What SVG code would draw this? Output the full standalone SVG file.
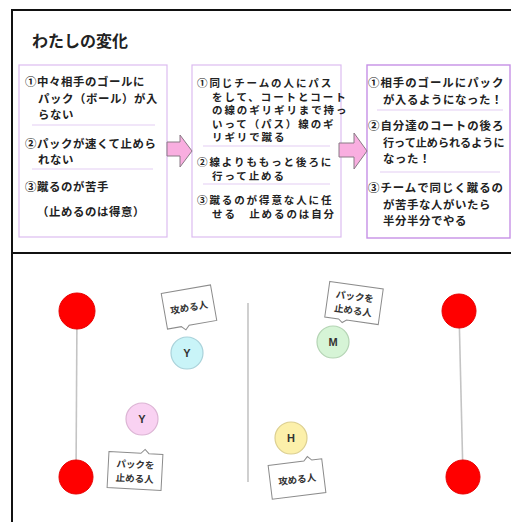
<svg xmlns="http://www.w3.org/2000/svg" width="511" height="522" viewBox="0 0 511 522">
<style>
.t{font-family:"Noto Sans CJK JP","Noto Sans",sans-serif;font-weight:bold;fill:#222}
.bx{fill:#fff;stroke:#dcbcf0;stroke-width:1.2}
.bx3{fill:#fff;stroke:#c690e6;stroke-width:1.4}
.sep{stroke:#e4cdf4;stroke-width:1.2}
.arr{fill:#f9aee0;stroke:#8a7a86;stroke-width:1}
.gl{stroke:#c4c4c4;stroke-width:1.6;fill:none}
.red{fill:#ff0000;stroke:#e80000;stroke-width:1}
.co{fill:#fff;stroke:#8c8c8c;stroke-width:1}
.ct{font-family:"Noto Sans CJK JP","Noto Sans",sans-serif;font-weight:bold;fill:#333;font-size:9.5px}
.pl{font-family:"Liberation Sans","Noto Sans",sans-serif;font-weight:bold;fill:#333;font-size:11px}
</style>
<rect width="511" height="522" fill="#fff"/>
<g id="frame" fill="none" stroke="#111" stroke-width="2">
<path d="M12 522 V10 H512"/>
<path d="M12 253 H512"/>
</g>
<g id="title"><text class="t" x="32" y="47" font-size="16">わたしの変化</text></g>

<g id="box1">
<rect class="bx" x="19" y="65" width="148" height="172"/>
<line class="sep" x1="32" y1="125" x2="155" y2="125"/>
<line class="sep" x1="32" y1="169" x2="153" y2="169"/>
<g class="t" font-size="11.4" letter-spacing="0.6">
<text x="25" y="86">①中々相手のゴールに</text>
<text x="38" y="103">パック（ボール）が入</text>
<text x="38" y="119">らない</text>
<text x="25" y="147.5">②パックが速くて止めら</text>
<text x="38" y="163.5">れない</text>
<text x="25" y="191">③蹴るのが苦手</text>
<text x="37" y="216">（止めるのは得意）</text>
</g>
</g>

<g id="box2">
<rect class="bx" x="192" y="65" width="149" height="172"/>
<line class="sep" x1="203" y1="146" x2="330" y2="146"/>
<line class="sep" x1="203" y1="184" x2="330" y2="184"/>
<g class="t" font-size="10.5" letter-spacing="1.9">
<text x="197" y="87">①同じチームの人にパス</text>
<text x="212" y="100.5">をして、コートとコート</text>
<text x="212" y="114">の線のギリギリまで持っ</text>
<text x="212" y="127.5">いって（パス）線のギ</text>
<text x="212" y="141">リギリで蹴る</text>
<text x="197" y="166">②線よりももっと後ろに</text>
<text x="212" y="180">行って止める</text>
<text x="197" y="204">③蹴るのが得意な人に任</text>
<text x="212" y="218">せる　止めるのは自分</text>
</g>
</g>

<g id="box3">
<rect class="bx3" x="367" y="65" width="143" height="173"/>
<line class="sep" x1="377" y1="110" x2="503" y2="110"/>
<line class="sep" x1="380" y1="172" x2="500" y2="172"/>
<g class="t" font-size="11.4">
<text x="368" y="87" letter-spacing="1">①相手のゴールにパック</text>
<text x="383" y="104" letter-spacing="0.6">が入るようになった！</text>
<text x="368" y="130" letter-spacing="1">②自分達のコートの後ろ</text>
<text x="383" y="147" font-size="11.1">行って止められるように</text>
<text x="383" y="163" letter-spacing="0.6">なった！</text>
<text x="368" y="192" letter-spacing="1">③チームで同じく蹴るの</text>
<text x="383" y="208.5" letter-spacing="0.6">が苦手な人がいたら</text>
<text x="383" y="225" letter-spacing="0.6">半分半分でやる</text>
</g>
</g>

<g id="connectors">
<path class="arr" d="M167 142 H180 V135 L192 151 L180 167 V156 H167 Z"/>
<path class="arr" d="M339 143 H354 V133 L367 151 L354 169 V157 H339 Z"/>
</g>

<g id="court">
<line class="gl" x1="77" y1="311" x2="76" y2="477"/>
<line class="gl" x1="459" y1="311" x2="463" y2="477"/>
<line class="gl" x1="248" y1="303" x2="248" y2="482"/>
<circle class="red" cx="77" cy="311" r="18"/>
<circle class="red" cx="76" cy="477" r="17"/>
<circle class="red" cx="459" cy="311" r="17"/>
<circle class="red" cx="463" cy="477" r="17"/>
</g>

<g id="player-Y-attack">
<circle cx="187" cy="353" r="16" fill="#c9f4f8" stroke="#a9d2da" stroke-width="1.2"/>
<text class="pl" x="187" y="357" text-anchor="middle">Y</text>
</g>
<g id="player-Y-stop">
<circle cx="142" cy="419" r="16" fill="#f9d2f2" stroke="#dcb4d4" stroke-width="1.2"/>
<text class="pl" x="142" y="423" text-anchor="middle">Y</text>
</g>
<g id="player-M">
<circle cx="333" cy="342" r="16" fill="#d6f4d6" stroke="#b4d4b4" stroke-width="1.2"/>
<text class="pl" x="333" y="346" text-anchor="middle">M</text>
</g>
<g id="player-H">
<circle cx="291" cy="438" r="16" fill="#fcf0aa" stroke="#dccf90" stroke-width="1.2"/>
<text class="pl" x="291" y="442" text-anchor="middle">H</text>
</g>

<g id="callout1" transform="translate(189,307) rotate(-10)">
<path class="co" d="M-25 -18 H25 V18 H-3 L-7 22 L-11 18 H-25 Z"/>
<text class="ct" x="0" y="4" text-anchor="middle">攻める人</text>
</g>
<g id="callout2" transform="translate(135,471) rotate(3)">
<path class="co" d="M-27 -18 H5 L9 -22 L13 -18 H27 V18 H-27 Z"/>
<text class="ct" x="0" y="-3" text-anchor="middle">パックを</text>
<text class="ct" x="0" y="11" text-anchor="middle">止める人</text>
</g>
<g id="callout3" transform="translate(354,303) rotate(8)">
<path class="co" d="M-27 -18 H27 V18 H-5 L-9 21 L-13 18 H-27 Z"/>
<text class="ct" x="0" y="-3" text-anchor="middle">パックを</text>
<text class="ct" x="0" y="11" text-anchor="middle">止める人</text>
</g>
<g id="callout4" transform="translate(297,479) rotate(-7)">
<path class="co" d="M-27 -17 H9 L13 -21 L17 -17 H27 V17 H-27 Z"/>
<text class="ct" x="0" y="4" text-anchor="middle">攻める人</text>
</g>
</svg>
